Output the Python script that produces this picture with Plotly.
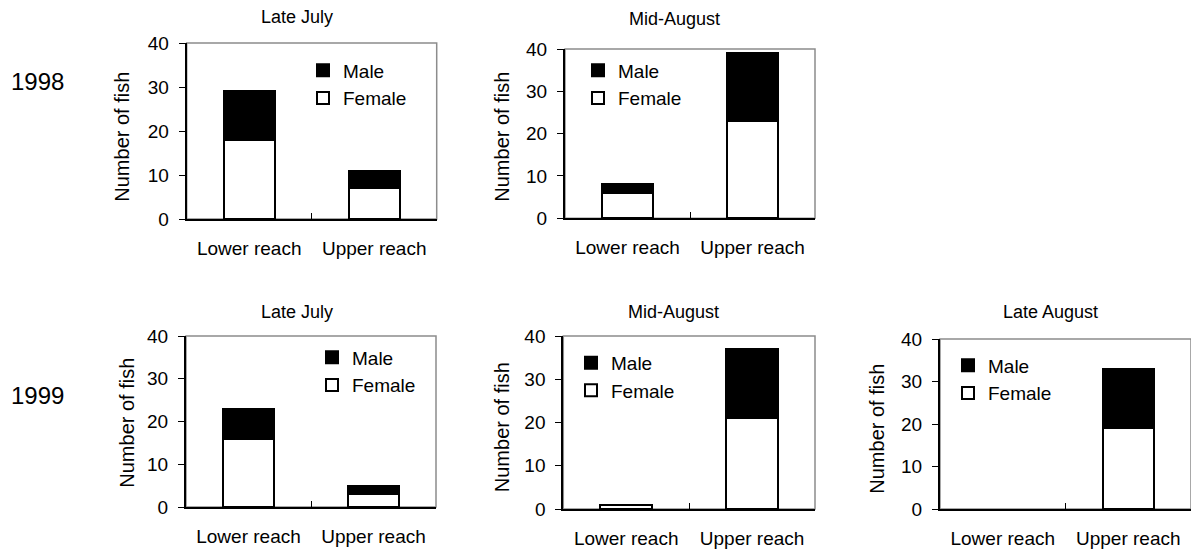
import plotly.graph_objects as go

W, H = 1191, 550

categories = ["Lower reach", "Upper reach"]
panel_titles = ["Late July", "Mid-August", "Late July", "Mid-August", "Late August"]
year_labels = ["1998", "1999"]
y_ticks = [0, 10, 20, 30, 40]

female_1998_late_july = [18, 7]
male_1998_late_july = [11, 4]
female_1998_mid_august = [6, 23]
male_1998_mid_august = [2, 16]
female_1999_late_july = [16, 3]
male_1999_late_july = [7, 2]
female_1999_mid_august = [1, 21]
male_1999_mid_august = [0, 16]
female_1999_late_august = [0, 19]
male_1999_late_august = [0, 14]

panels = [
    (female_1998_late_july, male_1998_late_july),
    (female_1998_mid_august, male_1998_mid_august),
    (female_1999_late_july, male_1999_late_july),
    (female_1999_mid_august, male_1999_mid_august),
    (female_1999_late_august, male_1999_late_august),
]

# layout in pixels: (left, right, top, bottom)
boxes = [
    (186.7, 436.7, 43, 219),
    (565, 815, 49, 218.3),
    (186, 436, 336, 507),
    (563.3, 815, 336, 509),
    (940, 1191, 339, 509),
]
title_pos = [(296.7, 17), (674, 19), (296.7, 311.7), (673.3, 311.7), (1050, 311.7)]
ytitle_pos = [(121.7, 137), (501.7, 137), (126.7, 423), (501.7, 427.5), (876.7, 429)]
legend_pos = [(340, 71), (615, 71), (349, 358), (608, 363.3), (985, 366)]
year_pos = [(37.5, 82), (37.5, 395)]

FONT = "Liberation Sans, Arial, sans-serif"

fig = go.Figure()
layout = {}
shapes = []
annotations = []

def nz(vals):
    return [v if v else None for v in vals]

for i, (fem, mal) in enumerate(panels):
    n = i + 1
    xa = "x" if n == 1 else f"x{n}"
    ya = "y" if n == 1 else f"y{n}"
    lg = "legend" if n == 1 else f"legend{n}"
    fig.add_trace(go.Bar(
        x=categories, y=nz(fem), name="Female", xaxis=xa, yaxis=ya, legend=lg,
        width=0.41, marker=dict(color="white", line=dict(color="black", width=2)),
    ))
    fig.add_trace(go.Bar(
        x=categories, y=nz(mal), name="Male", xaxis=xa, yaxis=ya, legend=lg,
        width=0.41, marker=dict(color="black", line=dict(color="black", width=2)),
    ))
    l, r, t, b = boxes[i]
    xd = [l / W, min(r / W, 1.0)]
    yd = [1 - b / H, 1 - t / H]
    xkey = "xaxis" if n == 1 else f"xaxis{n}"
    ykey = "yaxis" if n == 1 else f"yaxis{n}"
    layout[xkey] = dict(
        domain=xd, anchor=ya, range=[-0.5, 1.5], type="category", automargin=False,
        showline=True, linecolor="black", linewidth=2,
        ticks="inside", tickson="boundaries", ticklen=6, tickcolor="black", tickwidth=1,
        tickfont=dict(family=FONT, size=19, color="black"),
        ticklabelstandoff=11, showgrid=False, zeroline=False, fixedrange=True,
    )
    layout[ykey] = dict(
        domain=yd, anchor=xa, range=[0, 40], tickvals=y_ticks, automargin=False,
        showline=True, linecolor="black", linewidth=2,
        ticks="outside", ticklen=6, tickcolor="black", tickwidth=1,
        tickfont=dict(family=FONT, size=19, color="black"),
        ticklabelstandoff=6,
        showgrid=False, zeroline=False, fixedrange=True,
    )
    shapes.append(dict(
        type="rect", xref=f"{xa} domain", yref=f"{ya} domain",
        x0=0, x1=1, y0=0, y1=1, line=dict(color="#8c8c8c", width=1.5), layer="below",
    ))
    tx, ty = title_pos[i]
    annotations.append(dict(
        text=panel_titles[i], x=tx / W, y=1 - ty / H, xref="paper", yref="paper",
        showarrow=False, xanchor="center", yanchor="middle",
        font=dict(family=FONT, size=18, color="black"),
    ))
    ax_, ay_ = ytitle_pos[i]
    annotations.append(dict(
        text="Number of fish", x=ax_ / W, y=1 - ay_ / H, xref="paper", yref="paper",
        showarrow=False, xanchor="center", yanchor="middle", textangle=-90,
        font=dict(family=FONT, size=20, color="black"),
    ))
    lx, ly = legend_pos[i]
    layout[lg] = dict(
        x=(lx - 37) / W, y=1 - (ly - 19.5) / H, xanchor="left", yanchor="top",
        bgcolor="rgba(0,0,0,0)", borderwidth=0,
        font=dict(family=FONT, size=19, color="black"),
        traceorder="reversed", tracegroupgap=0,
    )

for txt, (px, py) in zip(year_labels, year_pos):
    annotations.append(dict(
        text=txt, x=px / W, y=1 - py / H, xref="paper", yref="paper",
        showarrow=False, xanchor="center", yanchor="middle",
        font=dict(family=FONT, size=24, color="black"),
    ))

fig.update_layout(
    template="none",
    width=W, height=H, margin=dict(l=0, r=0, t=0, b=0, autoexpand=False),
    paper_bgcolor="white", plot_bgcolor="white",
    barmode="stack", bargap=0.59, showlegend=True,
    shapes=shapes, annotations=annotations,
    font=dict(family=FONT, color="black"),
    **layout,
)

fig.write_html(
    "out.html",
    config={"displayModeBar": False},
    post_script="document.body.style.margin='0';document.body.style.overflow='hidden';",
)
